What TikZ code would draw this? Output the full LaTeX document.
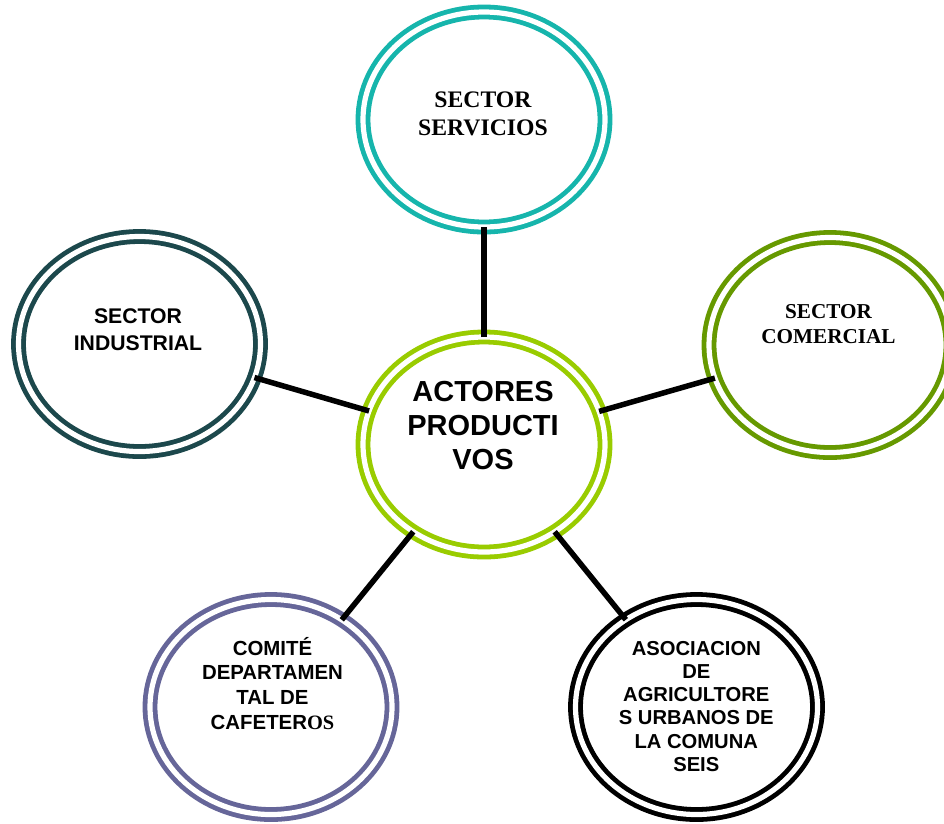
\documentclass[tikz,border=0pt]{standalone}
\usepackage{fontspec}
\setmainfont{Liberation Serif}
\newfontfamily\arialf{Liberation Sans}
\usetikzlibrary{shapes.geometric}
\definecolor{cteal}{RGB}{22,181,172}
\definecolor{cgreen}{RGB}{153,204,0}
\definecolor{colive}{RGB}{102,153,0}
\definecolor{cslate}{RGB}{28,72,76}
\definecolor{cpurple}{RGB}{102,102,153}
\tikzset{
  ring/.style={ellipse, draw=#1, double=white, line width=4.8pt, double distance=5.2pt,
    minimum width=242pt, minimum height=215pt, inner sep=0pt, outer sep=0pt},
  link/.style={line width=5.5pt, black},
  lbl/.style={anchor=base, inner sep=0pt, outer sep=0pt, text=black}
}
\newcommand{\mylines}[1]{\begin{tabular}[t]{@{}c@{}}#1\end{tabular}}
\begin{document}
\begin{tikzpicture}[x=1pt,y=-1pt]
\useasboundingbox (0,0) rectangle (944,823);
\fill[white] (0,0) rectangle (944,823);
% rings
\node[ring=cgreen] (cen) at (484,444.5) {};
\node[ring=cteal] (top) at (484,119.5) {};
\node[ring=colive] (rig) at (830,345) {};
\node[ring=cslate] (lef) at (139.5,344) {};
\node[ring=cpurple] (bl) at (271,707) {};
\node[ring=black] (br) at (696.5,707) {};
% connectors
\draw[link] (cen) -- (top);
\draw[link] (cen) -- (rig);
\draw[link] (cen) -- (lef);
\draw[link] (cen) -- (bl);
\draw[link] (cen) -- (br);
% labels
\node[lbl] (tcen) at (483,401.5) {\arialf\bfseries\fontsize{29}{34}\selectfont\mylines{ACTORES\\PRODUCTI\\VOS}};
\node[lbl] (ttop) at (483,107) {\bfseries\fontsize{23.7}{28}\selectfont\mylines{SECTOR\\SERVICIOS}};
\node[lbl] (trig) at (828.5,318) {\bfseries\fontsize{21.2}{25}\selectfont\mylines{SECTOR\\COMERCIAL}};
\node[lbl] (tlef) at (138,323.3) {\arialf\bfseries\fontsize{21.2}{26.7}\selectfont\mylines{SECTOR\\INDUSTRIAL}};
\node[lbl] (tbl) at (272.5,655) {\arialf\bfseries\fontsize{20.4}{24.8}\selectfont\mylines{COMITÉ\\DEPARTAMEN\\TAL DE\\CAFETER{\rmfamily\bfseries OS}}};
\node[lbl] (tbr) at (696.3,655) {\arialf\bfseries\fontsize{20.2}{23.3}\selectfont\mylines{ASOCIACION\\DE\\AGRICULTORE\\S URBANOS DE\\LA COMUNA\\SEIS}};
\end{tikzpicture}
\end{document}
